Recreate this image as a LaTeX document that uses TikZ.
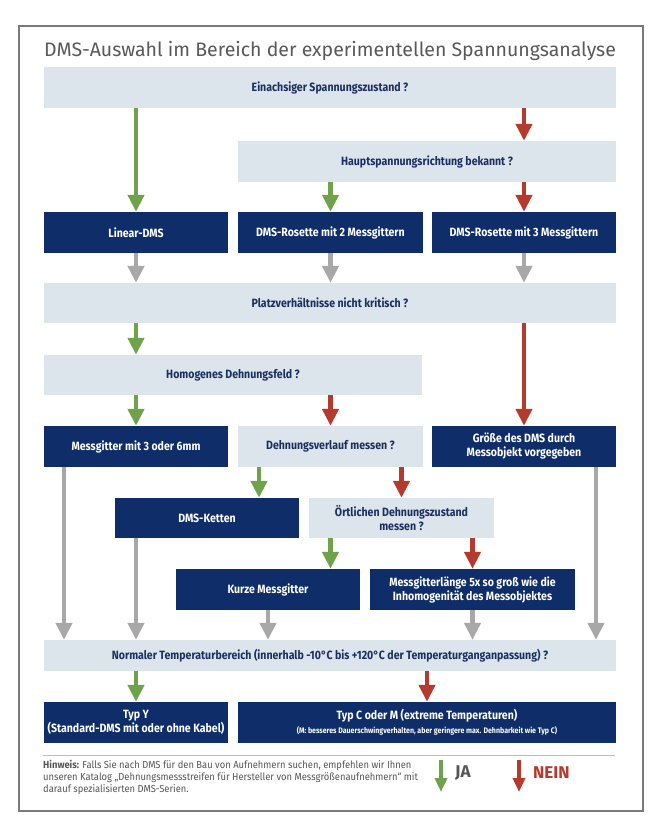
\documentclass[tikz,border=0pt]{standalone}
\usepackage{fontspec}
\setmainfont{Fira Sans}
\newfontfamily\bx[FakeStretch=0.88]{Fira Sans}
\newfontfamily\hx[FakeStretch=0.92]{Fira Sans}
\usetikzlibrary{arrows.meta}
\definecolor{lightbox}{HTML}{DCE4EC}
\definecolor{navy}{HTML}{0E2D69}
\definecolor{lighttext}{HTML}{1A2F5F}
\definecolor{jagreen}{HTML}{6FA24A}
\definecolor{neinred}{HTML}{B33A2C}
\definecolor{arrgray}{HTML}{A8A8A8}
\definecolor{bordergray}{HTML}{7A7A7A}
\definecolor{titlegray}{HTML}{595959}
\definecolor{hgray}{HTML}{555555}
\definecolor{sepgray}{HTML}{BDBDBD}
\begin{document}
\begin{tikzpicture}[x=1pt,y=-1pt,
  boxfont/.style={font=\bx\bfseries\fontsize{12}{14}\selectfont},
  qbox/.style={boxfont, fill=lightbox, text=lighttext, inner sep=0pt, align=center},
  dbox/.style={boxfont, fill=navy, text=white, inner sep=0pt, align=center},
  arr/.style={line width=4.5pt, -{Triangle[width=16pt,length=17pt]}},
  ja/.style={arr, draw=jagreen},
  nein/.style={arr, draw=neinred},
  grau/.style={arr, draw=arrgray},
  legarr/.style={line width=4pt, -{Triangle[width=12pt,length=14pt]}}
]
\useasboundingbox (0,0) rectangle (661,828);
\fill[white] (0,0) rectangle (661,828);
\draw[bordergray, line width=1.3pt] (19,26) rectangle (643,811);

\node[anchor=base west, text=titlegray, font=\fontsize{19.5}{21}\selectfont, inner sep=0pt] (title) at (44,56) {DMS-Auswahl im Bereich der experimentellen Spannungsanalyse};

% row nodes
\node[qbox, minimum width=572pt, minimum height=41pt] (q1) at (330,87.5) {Einachsiger Spannungszustand ?};
\node[qbox, minimum width=378pt, minimum height=41pt] (q2) at (427,161.5) {Hauptspannungsrichtung bekannt ?};
\node[dbox, minimum width=184pt, minimum height=41pt] (lin) at (136,232.5) {Linear-DMS};
\node[dbox, minimum width=185pt, minimum height=41pt] (r2) at (330.5,232.5) {DMS-Rosette mit 2 Messgittern};
\node[dbox, minimum width=184pt, minimum height=41pt] (r3) at (524,232.5) {DMS-Rosette mit 3 Messgittern};
\node[qbox, minimum width=572pt, minimum height=40pt] (q3) at (330,303) {Platzverhältnisse nicht kritisch ?};
\node[qbox, minimum width=378pt, minimum height=40pt] (q4) at (233,375) {Homogenes Dehnungsfeld ?};
\node[dbox, minimum width=184pt, minimum height=41pt] (mg) at (136,446.5) {Messgitter mit 3 oder 6mm};
\node[qbox, minimum width=185pt, minimum height=41pt] (q5) at (330.5,446.5) {Dehnungsverlauf messen ?};
\node[dbox, minimum width=184pt, minimum height=41pt] (gr) at (524,446.5) {Größe des DMS durch\\Messobjekt vorgegeben};
\node[dbox, minimum width=184pt, minimum height=40pt] (dk) at (207,518) {DMS-Ketten};
\node[qbox, minimum width=185pt, minimum height=40pt] (q6) at (401.5,518) {Örtlichen Dehnungszustand\\messen ?};
\node[dbox, minimum width=184pt, minimum height=41pt] (km) at (268,589.5) {Kurze Messgitter};
\node[dbox, minimum width=205pt, minimum height=41pt] (ml) at (472.5,589.5) {Messgitterlänge 5x so groß wie die\\Inhomogenität des Messobjektes};
\node[qbox, minimum width=572pt, minimum height=31pt] (q7) at (330,655.5) {Normaler Temperaturbereich (innerhalb -10°C bis +120°C der Temperaturganganpassung) ?};
\node[dbox, minimum width=184pt, minimum height=41pt] (ty) at (136,722.5) {Typ Y\\(Standard-DMS mit oder ohne Kabel)};
\node[dbox, minimum width=378pt, minimum height=41pt] (tc) at (427,722.5) {Typ C oder M (extreme Temperaturen)\\{\fontsize{8}{10}\selectfont (M: besseres Dauerschwingverhalten, aber geringere max. Dehnbarkeit wie Typ C)}};

% connectors
\draw[ja] (lin.north |- q1.south) -- (lin.north);
\draw[nein] (r3.north |- q1.south) -- (r3.north |- q2.north);
\draw[ja] (r2.north |- q2.south) -- (r2.north);
\draw[nein] (r3.north |- q2.south) -- (r3.north);
\draw[grau] (lin.south) -- (lin.south |- q3.north);
\draw[grau] (r2.south) -- (r2.south |- q3.north);
\draw[grau] (r3.south) -- (r3.south |- q3.north);
\draw[ja] (mg.north |- q3.south) -- (mg.north |- q4.north);
\draw[nein] (gr.north |- q3.south) -- (gr.north);
\draw[ja] (mg.north |- q4.south) -- (mg.north);
\draw[nein] (q5.north |- q4.south) -- (q5.north);
\draw[ja] ([xshift=-71.5pt]q5.south) -- ([xshift=-71.5pt]q5.south |- dk.north);
\draw[nein] (q6.north |- q5.south) -- (q6.north);
\draw[ja] ([xshift=62.5pt]km.north |- q6.south) -- ([xshift=62.5pt]km.north);
\draw[nein] (ml.north |- q6.south) -- (ml.north);
\draw[grau] ([xshift=-72pt]mg.south) -- ([xshift=-72pt]mg.south |- q7.north);
\draw[grau] ([xshift=-71pt]dk.south) -- ([xshift=-71pt]dk.south |- q7.north);
\draw[grau] (km.south) -- (km.south |- q7.north);
\draw[grau] (ml.south) -- (ml.south |- q7.north);
\draw[grau] ([xshift=72pt]gr.south) -- ([xshift=72pt]gr.south |- q7.north);
\draw[ja] (ty.north |- q7.south) -- (ty.north);
\draw[nein] (tc.north |- q7.south) -- (tc.north);

% footer
\coordinate (sepL) at (43,755);
\coordinate (sepR) at (615,755);
\draw[sepgray, line width=1pt] (sepL) -- (sepR);
\node[anchor=north west, inner sep=0pt, align=left, text=hgray, font=\hx\fontsize{10.2}{12}\selectfont] (hw) at (43,760)
  {\textbf{Hinweis:} Falls Sie nach DMS für den Bau von Aufnehmern suchen, empfehlen wir Ihnen\\
   unseren Katalog „Dehnungsmessstreifen für Hersteller von Messgrößenaufnehmern“ mit\\
   darauf spezialisierten DMS-Serien.};
\coordinate (jaT) at (441,760);
\coordinate (jaB) at (441,792);
\draw[legarr, draw=jagreen] (jaT) -- (jaB);
\node[anchor=west, inner sep=0pt, text=hgray, font=\bfseries\fontsize{17}{19}\selectfont] (jat) at (455,773) {JA};
\coordinate (neinT) at (519,760);
\coordinate (neinB) at (519,792);
\draw[legarr, draw=neinred] (neinT) -- (neinB);
\node[anchor=west, inner sep=0pt, text=neinred, font=\bfseries\fontsize{17}{19}\selectfont] (neint) at (533,773) {NEIN};
\end{tikzpicture}
\end{document}
